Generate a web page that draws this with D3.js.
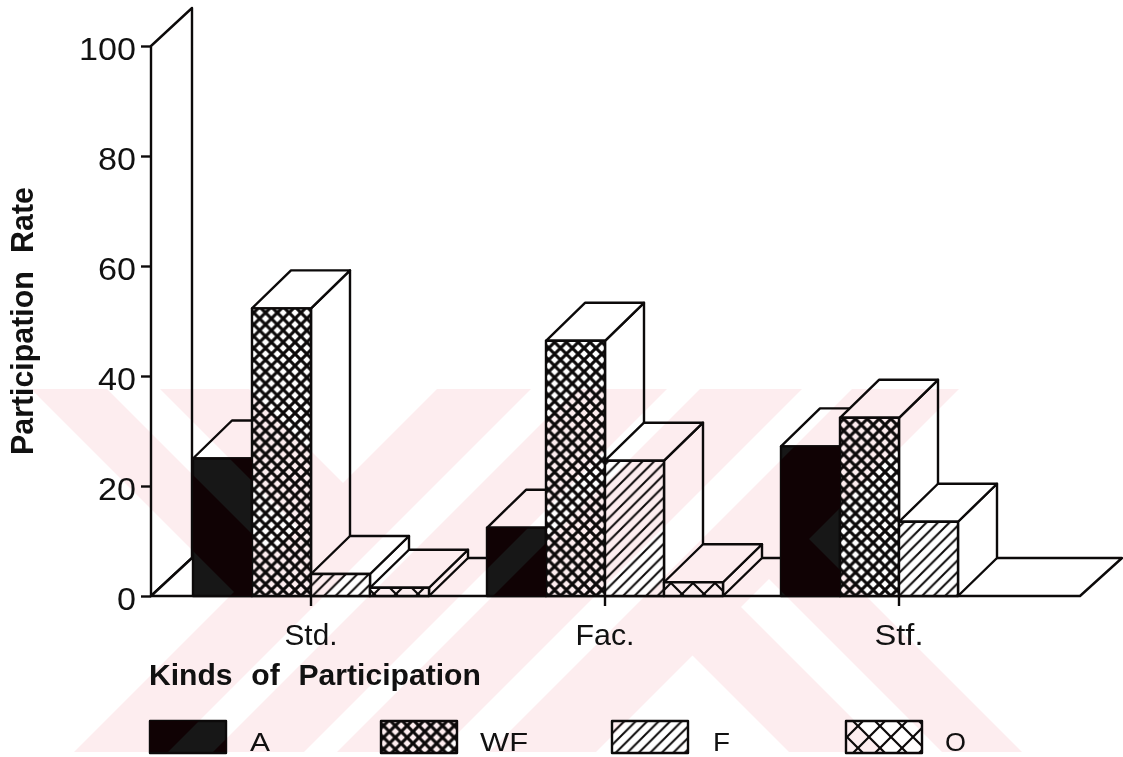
<!DOCTYPE html>
<html>
<head>
<meta charset="utf-8">
<script src="https://cdnjs.cloudflare.com/ajax/libs/d3/7.8.5/d3.min.js"></script>
<style>
html,body{margin:0;padding:0;background:#fff;}
svg{display:block;}
text{font-family:"Liberation Sans",Arial,sans-serif;fill:#111;}
</style>
</head>
<body>
<svg id="c" width="1123" height="757"></svg>
<script>
const categories = ["Std.", "Fac.", "Stf."];
const seriesNames = ["A", "WF", "F", "O"];
const valuesA  = [25.0, 12.4, 27.2];
const valuesWF = [52.3, 46.4, 32.4];
const valuesF  = [4.0, 24.6, 13.5];
const valuesO  = [1.5, 2.5, 0];
const yTicks = [0, 20, 40, 60, 80, 100];
const seriesValues = [valuesA, valuesWF, valuesF, valuesO];

const svg = d3.select("#c");
const ink = "#0c0a0a", lw = 2.4;
const depthX = 39, depthY = 38;

const x0 = d3.scaleBand().domain(categories).range([193, 1017]).paddingInner(58 / 294).paddingOuter(0);
const x1 = d3.scaleBand().domain(seriesNames).range([0, x0.bandwidth()]);
const y = d3.scaleLinear().domain([0, 100]).range([596, 46]);
const axisX = 151, floorEnd = 1080;

// --- squeeze or stretch a text to an exact width by scaling its glyphs
function fit(sel, widthOf) {
  sel.each(function (d) {
    const t = d3.select(this);
    const px = +t.attr("x") || 0;
    const sx = widthOf(d) / this.getComputedTextLength();
    t.attr("x", 0).attr("transform", `translate(${px},0) scale(${sx},1)`);
  });
}

// --- patterns
const defs = svg.append("defs");
function hatch(id, size, width, both) {
  const p = defs.append("pattern").attr("id", id).attr("patternUnits", "userSpaceOnUse")
    .attr("width", size).attr("height", size);
  p.append("rect").attr("width", size).attr("height", size).attr("fill", "#fff");
  const seg = (d) => p.append("path").attr("d", d).attr("stroke", ink).attr("stroke-width", width).attr("fill", "none");
  seg(`M${-size},${size}L${size},${-size}M0,${size}L${size},0M0,${2 * size}L${2 * size},0`);
  if (both) seg(`M0,0L${size},${size}M${-size},0L${size},${2 * size}M0,${-size}L${2 * size},${size}`);
}
hatch("pWF", 11.8, 3, true);
hatch("pF", 11.5, 2, false);
hatch("pO", 22, 2.2, true);
const fillOf = { A: "#171717", WF: "url(#pWF)", F: "url(#pF)", O: "url(#pO)" };

// --- wall and floor
const poly = (pts) => "M" + pts.map(p => p.join(",")).join("L") + "Z";
const g = svg.append("g").attr("stroke", ink).attr("stroke-width", lw).attr("stroke-linejoin", "round");
svg.insert("rect", "g").attr("width", 1123).attr("height", 757).attr("fill", "#fff");
g.append("path").attr("fill", "#fff").attr("d", poly([
  [axisX, y(100)], [axisX, y(0)], [axisX + depthX + 2, y(0) - depthY], [axisX + depthX + 2, y(100) - depthY]
]));
g.append("path").attr("fill", "#fff").attr("d", poly([
  [axisX, y(0)], [floorEnd, y(0)], [floorEnd + depthX + 3, y(0) - depthY], [axisX + depthX + 2, y(0) - depthY]
]));

// --- bars, painted left to right
const bars = [];
categories.forEach((c, ci) => seriesNames.forEach((s, si) => {
  bars.push({ c, s, v: seriesValues[si][ci] });
}));
const shown = bars.filter(d => d.v > 0);
const bar = g.selectAll("g.bar").data(shown).join("g").attr("class", "bar");
const bx = d => x0(d.c) + x1(d.s);
const bw = x1.bandwidth();
bar.append("path").attr("fill", "#fff").attr("d", d => poly([
  [bx(d) + bw, y(d.v)], [bx(d) + bw + depthX, y(d.v) - depthY], [bx(d) + bw + depthX, y(0) - depthY], [bx(d) + bw, y(0)]
]));
bar.append("path").attr("fill", "#fff").attr("d", d => poly([
  [bx(d), y(d.v)], [bx(d) + depthX, y(d.v) - depthY], [bx(d) + bw + depthX, y(d.v) - depthY], [bx(d) + bw, y(d.v)]
]));
bar.append("rect").attr("x", bx).attr("y", d => y(d.v)).attr("width", bw)
  .attr("height", d => y(0) - y(d.v)).attr("fill", d => fillOf[d.s]);

// --- legend
const legendX = { A: 150, WF: 381, F: 612, O: 846 };
const legendLabelX = { A: 250, WF: 480, F: 713, O: 945 };
const legendLabelW = { A: 20, WF: 48, F: 17, O: 21 };
const legend = g.selectAll("g.leg").data(seriesNames).join("g").attr("class", "leg");
legend.append("rect").attr("x", s => legendX[s]).attr("y", 721).attr("width", 76).attr("height", 32)
  .attr("fill", s => fillOf[s]);
legend.append("text").text(s => s).attr("x", 0).attr("y", 0)
  .attr("stroke", "none").attr("font-size", 26)
  .each(function (s) {
    const sx = legendLabelW[s] / this.getComputedTextLength();
    d3.select(this).attr("transform", `translate(${legendLabelX[s]},750.5) scale(${sx},1)`);
  });

// --- watermark (multiplied over everything drawn so far)
const top_ = 389, bot = 752;
const slashBands = [[826, 920], [965, 1056], [1089, 1191], [1241, 1348]];
const backUpper = [[-358, -282], [-229, -140]];
const backLower = [[37, 134], [190, 270]];
const wmPaths = [];
slashBands.forEach(([a, b]) => wmPaths.push(poly([[a - top_, top_], [b - top_, top_], [b - bot, bot], [a - bot, bot]])));
backUpper.forEach(([a, b]) => {
  const ya = (830 - a) / 2, yb = (830 - b) / 2;
  wmPaths.push(poly([[a + top_, top_], [b + top_, top_], [b + yb, yb], [a + ya, ya]]));
});
backLower.forEach(([a, b]) => {
  const ya = (1340 - a) / 2, yb = (1340 - b) / 2;
  wmPaths.push(poly([[a + ya, ya], [b + yb, yb], [b + bot, bot], [a + bot, bot]]));
});
svg.append("g").style("mix-blend-mode", "multiply").selectAll("path").data(wmPaths).join("path")
  .attr("d", d => d).attr("fill", "#fdedef");

// tinted black where the watermark crosses the solid bars
const clip = defs.append("clipPath").attr("id", "solid");
shown.filter(d => d.s === "A").forEach(d =>
  clip.append("rect").attr("x", bx(d)).attr("y", y(d.v)).attr("width", bw).attr("height", y(0) - y(d.v)));
clip.append("rect").attr("x", legendX.A).attr("y", 721).attr("width", 76).attr("height", 32);
svg.append("g").attr("clip-path", "url(#solid)").selectAll("path").data(wmPaths).join("path")
  .attr("d", d => d).attr("fill", "#100204");

// --- axes
const yAxis = svg.append("g").attr("transform", `translate(${axisX},0)`)
  .call(d3.axisLeft(y).tickValues(yTicks).tickSize(10).tickPadding(5));
const xAxis = svg.append("g").attr("transform", `translate(0,${y(0)})`)
  .call(d3.axisBottom(x0).tickSize(10).tickPadding(18));
[yAxis, xAxis].forEach(a => {
  a.select(".domain").remove();
  a.selectAll("line").attr("stroke", ink).attr("stroke-width", lw);
  a.selectAll("text").attr("fill", "#111").attr("font-family", "Liberation Sans");
});
yAxis.selectAll("text").attr("font-size", 31).attr("dy", "0.45em");
fit(yAxis.selectAll("text"), d => String(d).length * 19);
const catW = { "Std.": 53, "Fac.": 59, "Stf.": 49 };
xAxis.selectAll("text").attr("font-size", 30);
fit(xAxis.selectAll("text"), d => catW[d]);

// --- axis titles
const t1 = svg.append("text").text("Kinds of Participation").attr("font-size", 29)
  .attr("font-weight", 700).style("word-spacing", "10px");
t1.attr("transform", `translate(149,685) scale(${332 / t1.node().getComputedTextLength()},1)`);
const t2 = svg.append("text").text("Participation Rate").attr("font-size", 31)
  .attr("font-weight", 700).style("word-spacing", "10px");
t2.attr("transform", `translate(33,455) rotate(-90) scale(${268 / t2.node().getComputedTextLength()},1)`);
</script>
</body>
</html>
